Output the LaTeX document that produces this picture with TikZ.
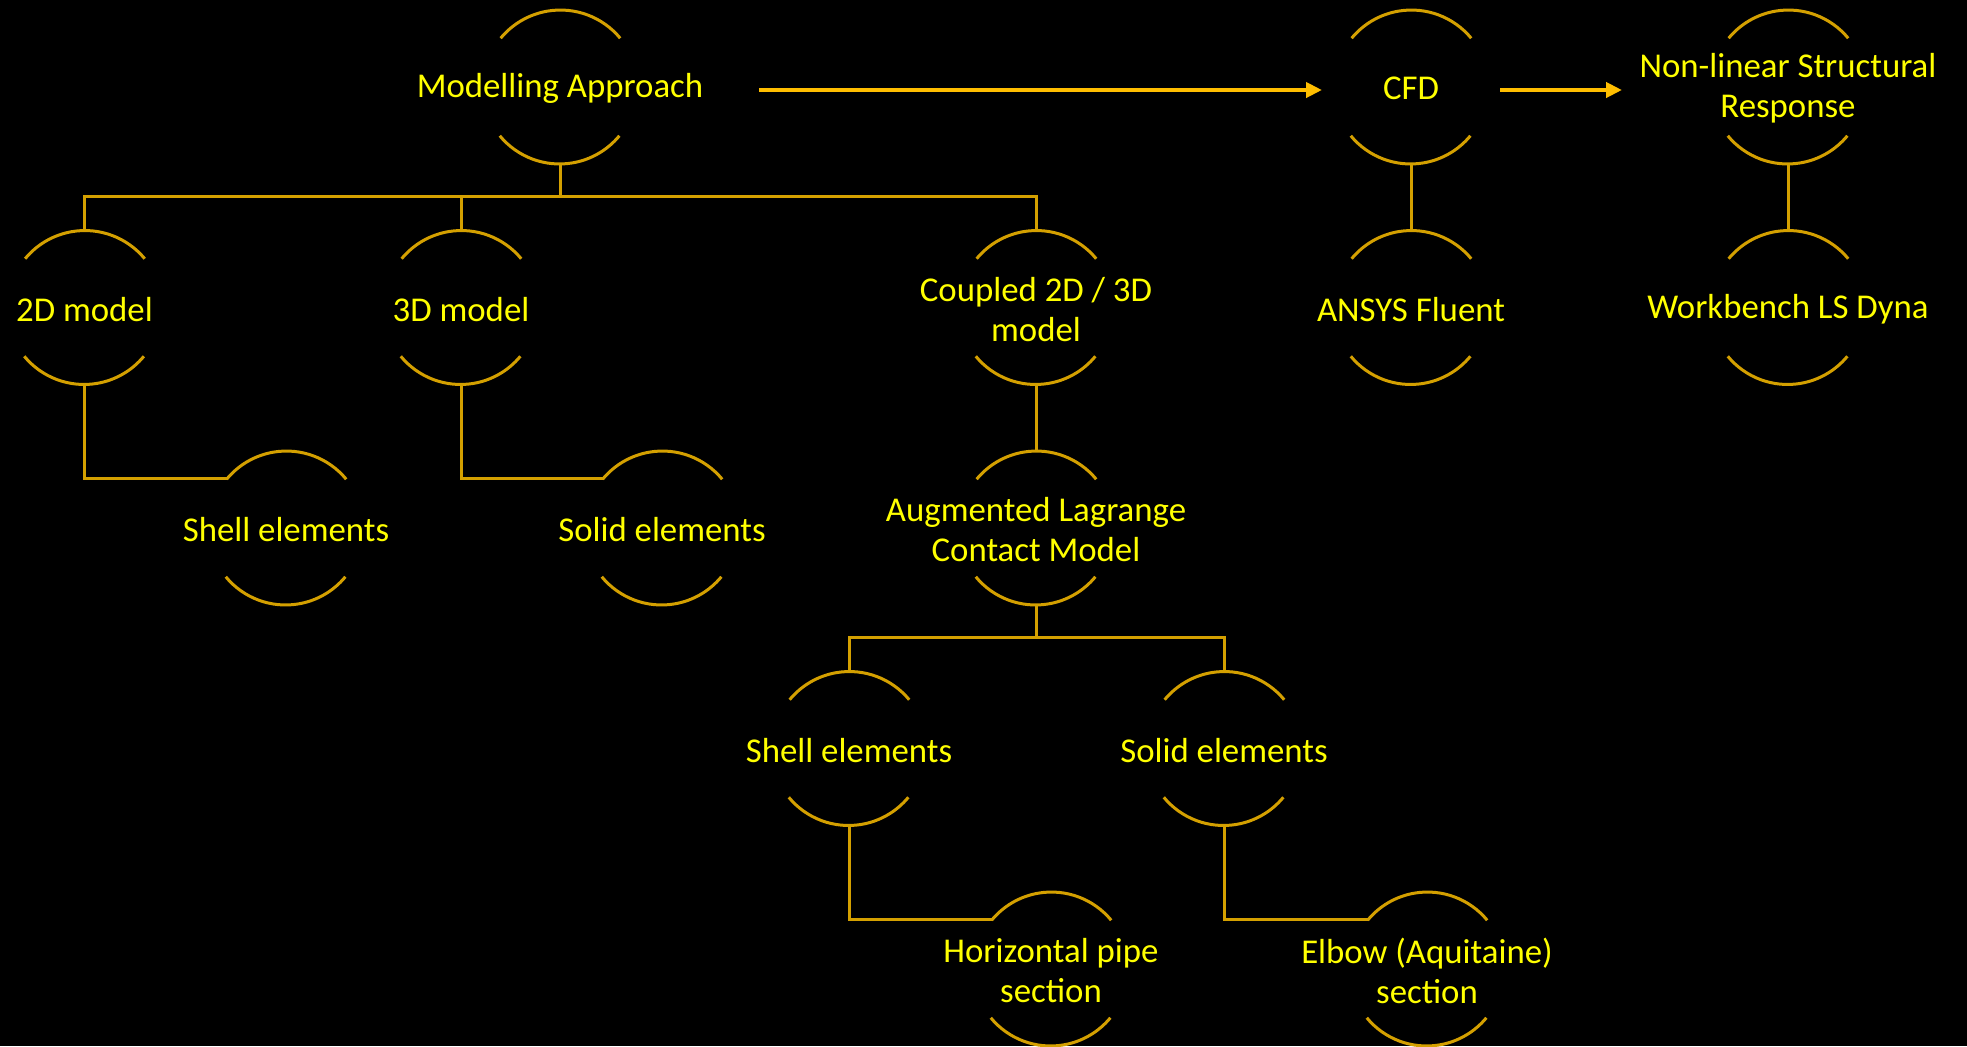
\documentclass[tikz,border=0pt]{standalone}
\usepackage{fontspec}
\setmainfont{Carlito}
\usetikzlibrary{arrows.meta,calc}
\definecolor{txtyel}{RGB}{255,255,0}
\definecolor{linegold}{RGB}{212,160,0}
\definecolor{arrowgold}{RGB}{255,190,0}
\tikzset{
  ringnode/.style={circle, minimum size=77.5pt, inner sep=0pt, outer sep=0pt},
  txt/.style={text=txtyel, align=center, font=\fontsize{17.4}{20}\selectfont, inner sep=0pt, yshift=-0.8pt},
  ring/.style={draw=linegold, line width=1.5pt},
  conn/.style={draw=linegold, line width=1.5pt},
  flowarrow/.style={draw=arrowgold, line width=2pt, -{Triangle[length=8pt,width=7.5pt]}}
}
\begin{document}
\begin{tikzpicture}[x=0.5pt,y=-0.5pt]
\fill[black] (0,0) rectangle (1967,1046);
\useasboundingbox (0,0) rectangle (1967,1046);

\node[ringnode, label={[txt]center:{Modelling Approach}}] (ma) at (560,87) {};
\node[ringnode, label={[txt]center:{CFD}}] (cfd) at (1411,87) {};
\node[ringnode, label={[txt]center:{Non-linear Structural\\Response}}] (nl) at (1788,87) {};
\node[ringnode, label={[txt]center:{ANSYS Fluent}}] (ansys) at (1411,307.5) {};
\node[ringnode, label={[txt]center:{Workbench LS Dyna}}] (wb) at (1788,307.5) {};
\node[ringnode, label={[txt]center:{2D model}}] (m2d) at (84.5,307.5) {};
\node[ringnode, label={[txt]center:{3D model}}] (m3d) at (461,307.5) {};
\node[ringnode, label={[txt]center:{Coupled 2D / 3D\\model}}] (cpl) at (1036,307.5) {};
\node[ringnode, label={[txt]center:{Shell elements}}] (sh1) at (286,528) {};
\node[ringnode, label={[txt]center:{Solid elements}}] (so1) at (662,528) {};
\node[ringnode, label={[txt]center:{Augmented Lagrange\\Contact Model}}] (aug) at (1036,528) {};
\node[ringnode, label={[txt]center:{Shell elements}}] (sh2) at (849,748.5) {};
\node[ringnode, label={[txt]center:{Solid elements}}] (so2) at (1224,748.5) {};
\node[ringnode, label={[txt]center:{Horizontal pipe\\section}}] (hp) at (1051,969) {};
\node[ringnode, label={[txt]center:{Elbow (Aquitaine)\\section}}] (elb) at (1427,969) {};

\foreach \n in {ma,cfd,nl,ansys,wb,m2d,m3d,cpl,sh1,so1,aug,sh2,so2,hp,elb}{
  \draw[ring] (\n.39.5) arc[start angle=39.5, end angle=140.5, radius=38.75pt];
  \draw[ring] (\n.219.5) arc[start angle=219.5, end angle=320.5, radius=38.75pt];
}

% tree connectors
\draw[conn] (ma.south) -- ++(0,32);
\draw[conn] (m2d.north) -- ++(0,-34) -| (cpl.north);
\draw[conn] (m3d.north) -- ++(0,-34);
\draw[conn] (m2d.south) |- (sh1.140.5);
\draw[conn] (m3d.south) |- (so1.140.5);
\draw[conn] (cpl.south) -- (aug.north);
\draw[conn] (aug.south) -- ++(0,32);
\draw[conn] (sh2.north) -- ++(0,-34) -| (so2.north);
\draw[conn] (sh2.south) |- (hp.140.5);
\draw[conn] (so2.south) |- (elb.140.5);
\draw[conn] (cfd.south) -- (ansys.north);
\draw[conn] (nl.south) -- (wb.north);

% flow arrows
\draw[flowarrow] ($(ma.center)+(199,3)$) -- ($(cfd.center)+(-89,3)$);
\draw[flowarrow] ($(cfd.center)+(89,3)$) -- ($(nl.center)+(-166,3)$);
\end{tikzpicture}
\end{document}
